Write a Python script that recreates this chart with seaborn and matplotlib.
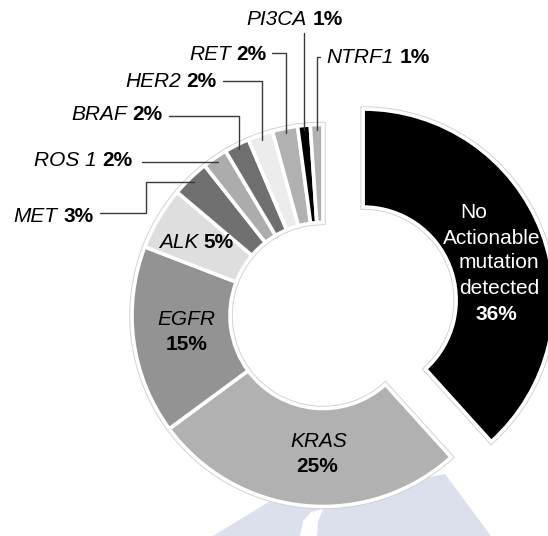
import matplotlib
matplotlib.use("Agg")
import matplotlib.pyplot as plt
from matplotlib.patches import Polygon
import numpy as np
import seaborn as sns

sns.set_theme(style="white")
plt.rcParams["font.family"] = ["Liberation Sans", "DejaVu Sans"]

# ---- data -------------------------------------------------------------
categories = ["No Actionable mutation detected", "KRAS", "EGFR", "ALK", "MET",
              "ROS 1", "BRAF", "HER2", "RET", "PI3CA", "NTRF1"]
percent = [36, 25, 15, 5, 3, 2, 2, 2, 2, 1, 1]
greys = ["#000000", "#b1b1b1", "#939393", "#dedede", "#707070", "#acacac",
         "#6f6f6f", "#ececec", "#b1b1b1", "#000000", "#b1b1b1"]
pct_labels = [f"{v}%" for v in percent]

# ---- canvas in pixel units --------------------------------------------
W, H = 548, 536
fig = plt.figure(figsize=(W / 100, H / 100), dpi=100)
ax = fig.add_axes([0, 0, 1, 1])


def py(y):
    """pixel row (top-down) -> data y (bottom-up)"""
    return H - y


FS = 15
CX, CY = 323, py(315.5)
R = 191
RING = 98
offsets = [43] + [0] * (len(percent) - 1)

# light watermark shape behind the ring
ax.add_patch(Polygon([(213, py(536)), (272, py(500)), (330, py(498)),
                      (445, py(474)), (491, py(536))],
                     closed=True, facecolor="#dcdfec", edgecolor="none", zorder=0))
ax.add_patch(Polygon([(300, py(536)), (303, py(521)), (311, py(512)),
                      (323, py(509)), (318, py(522)), (317, py(536))],
                     closed=True, facecolor="white", edgecolor="none", zorder=0.5))

# faint grey rim under the white separators
ax.pie(percent, explode=offsets, colors=greys, startangle=90, counterclock=False,
       radius=R, center=(CX, CY), frame=True,
       wedgeprops=dict(width=RING, edgecolor="#d0d0d0", linewidth=3.9))
wedges, _ = ax.pie(percent, explode=offsets, colors=greys, startangle=90,
                   counterclock=False, radius=R, center=(CX, CY), frame=True,
                   wedgeprops=dict(width=RING, edgecolor="white", linewidth=2.6))

ax.set_xlim(0, W)
ax.set_ylim(0, H)
ax.set_aspect("equal")
ax.axis("off")

wedge_of = dict(zip(categories, wedges))
pct_of = dict(zip(categories, pct_labels))


def rim_point(name, frac=0.974):
    w = wedge_of[name]
    th = np.deg2rad(0.5 * (w.theta1 + w.theta2))
    r = w.r * frac
    return w.center[0] + r * np.cos(th), w.center[1] + r * np.sin(th)


def label_right(x_end, base, name, color="black"):
    t = ax.text(x_end, py(base), pct_of[name], ha="right", va="baseline",
                fontsize=FS, fontweight="bold", color=color)
    ax.annotate(name, xy=(0, 0), xycoords=t, xytext=(-4.2, 0),
                textcoords="offset points", ha="right", va="bottom",
                fontsize=FS, fontstyle="italic", color=color)


def label_left(x_start, base, name, color="black"):
    t = ax.text(x_start, py(base), name, ha="left", va="baseline",
                fontsize=FS, fontstyle="italic", color=color)
    ax.annotate(pct_of[name], xy=(1, 0), xycoords=t, xytext=(4.2, 0),
                textcoords="offset points", ha="left", va="bottom",
                fontsize=FS, fontweight="bold", color=color)


def leader(points):
    xs, ys = zip(*points)
    ax.plot(xs, ys, color="#3a3a3a", lw=1.0, solid_joinstyle="miter", zorder=3)


# ---- outside labels with leader lines ---------------------------------
label_right(93.7, 222, "MET")
ax_, ay_ = rim_point("MET")
leader([(100, py(213)), (146, py(213)), (146, ay_), (ax_, ay_)])

label_right(132.8, 166, "ROS 1")
ax_, ay_ = rim_point("ROS 1")
leader([(142, ay_), (ax_, ay_)])

label_right(162.5, 120, "BRAF")
ax_, ay_ = rim_point("BRAF")
leader([(168.5, py(115.5)), (ax_, py(115.5)), (ax_, ay_)])

label_right(216.7, 87, "HER2")
ax_, ay_ = rim_point("HER2")
leader([(223, py(80.5)), (ax_, py(80.5)), (ax_, ay_)])

label_right(266.7, 60, "RET")
ax_, ay_ = rim_point("RET")
leader([(272, py(52.5)), (ax_, py(52.5)), (ax_, ay_)])

label_left(246.7, 25, "PI3CA")
ax_, ay_ = rim_point("PI3CA")
leader([(ax_, py(33)), (ax_, ay_)])

label_left(326.7, 63, "NTRF1")
ax_, ay_ = rim_point("NTRF1")
leader([(ax_ + 3, py(57)), (ax_, py(57)), (ax_, ay_)])

# ---- labels inside the ring -------------------------------------------
ax.text(198.3, py(248), "ALK", ha="right", va="baseline", fontsize=FS,
        fontstyle="italic", color="black")
ax.text(203.3, py(248), pct_of["ALK"], ha="left", va="baseline", fontsize=FS,
        fontweight="bold", color="black")

ax.text(186.7, py(325), "EGFR", ha="center", va="baseline", fontsize=FS,
        fontstyle="italic", color="black")
ax.text(186.7, py(350), pct_of["EGFR"], ha="center", va="baseline", fontsize=FS,
        fontweight="bold", color="black")

ax.text(318.3, py(446.7), "KRAS", ha="center", va="baseline", fontsize=FS,
        fontstyle="italic", color="black")
ax.text(316.7, py(471.7), pct_of["KRAS"], ha="center", va="baseline", fontsize=FS,
        fontweight="bold", color="black")

no_lines = ["No", "Actionable", "mutation", "detected"]
line_x = [474, 491.7, 499, 499]
line_base = [218.5, 243.5, 268.5, 293.5]
for s, x, b in zip(no_lines, line_x, line_base):
    ax.text(x, py(b), s, ha="center", va="baseline", fontsize=FS, color="white")
ax.text(496.7, py(320), pct_of[categories[0]], ha="center", va="baseline",
        fontsize=FS, fontweight="bold", color="white")

fig.savefig("out.png", dpi=100, facecolor="white")
